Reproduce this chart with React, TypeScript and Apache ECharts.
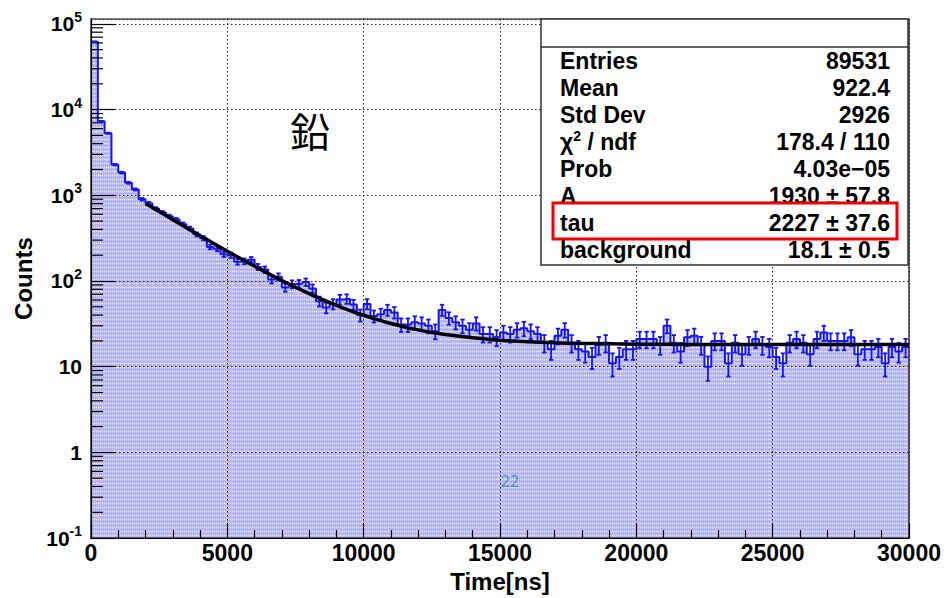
import React, { useEffect, useRef } from 'react';
import * as echarts from 'echarts';

// ---- data ----
const binWidth = 250; // ns per bin, 0 .. 30000 ns
const counts = [
  62000, 7300, 5300, 2280, 1840, 1400, 1170, 900, 810, 700,
  630, 570, 520, 460, 410, 350, 316, 250, 238, 205,
  200, 168, 170, 177, 146, 136, 104, 112, 84, 92,
  93, 97, 82, 58, 49, 54, 61, 62, 53, 40,
  54, 39, 41, 46, 43, 31, 31, 33, 32, 30,
  26, 46, 37, 33, 30, 27, 32, 24, 24, 22,
  25, 24, 27, 28, 26, 24, 19, 16, 23, 27,
  19, 16, 15, 13, 18, 19, 11, 13, 16, 16,
  21, 21, 21, 18, 30, 19, 15, 22, 23, 18,
  10, 20, 20, 11, 19, 14, 18, 21, 18, 17,
  13, 11, 19, 21, 19, 14, 21, 25, 20, 20,
  20, 22, 14, 16, 16, 17, 11, 17, 15, 17,
];
// fitted curve, read along the black line of the picture
const fitTimes = [2000, 2500, 3000, 3500, 4000, 4500, 5000, 5500, 6000, 6500, 7000, 7500, 8000, 8500, 9000, 9500, 10000, 10500, 11000, 11500, 12000, 12500, 13000, 13500, 14000, 14500, 15000, 15500, 16000, 17000, 18000, 19000, 20000, 22000, 25000, 30000];
const fitValues = [804, 646, 520, 419, 338, 274, 222.5, 181.4, 148.6, 122.3, 101.4, 84.6, 71.3, 60.5, 52.0, 45.2, 39.8, 35.4, 31.9, 29.1, 26.9, 25.1, 23.7, 22.6, 21.7, 21.0, 20.4, 19.9, 19.6, 19.0, 18.7, 18.5, 18.3, 18.2, 18.1, 18.1];

const xMin = 0;
const xMax = 30000;
const xInterval = 5000;
const yMin = 0.1;
const yMax = 114000;
const minorMultipliers = [2, 3, 4, 5, 6, 7, 8, 9];
const minorDecades = [0.1, 1, 10, 100, 1000, 10000];

const statsLabels = ['Entries', 'Mean', 'Std Dev', '{n|χ}{s|2}{n| / ndf}', 'Prob', 'A', 'tau', 'background'];
const statsValues = ['89531', '922.4', '2926', '178.4 / 110', '4.03e\u221205', '1930 ± 57.8', '2227 ± 37.6', '18.1 ± 0.5'];

const FONT = '"Liberation Sans", Arial, Helvetica, sans-serif';
const BLUE = '#1414f0';
const FILL = '#bebef4';

function makePattern(): any {
  try {
    const c = document.createElement('canvas');
    c.width = 4;
    c.height = 4;
    const ctx = c.getContext('2d');
    if (!ctx) return FILL;
    ctx.fillStyle = '#bcbcf3';
    ctx.fillRect(0, 0, 4, 4);
    ctx.fillStyle = '#eeeefd';
    ctx.fillRect(0, 3, 1, 1);
    ctx.fillRect(2, 3, 1, 1);
    ctx.fillStyle = '#a8a8ef';
    ctx.fillRect(1, 1, 1, 1);
    ctx.fillRect(3, 1, 1, 1);
    return { image: c, repeat: 'repeat' };
  } catch (e) {
    return FILL;
  }
}

export default function App() {
  const ref = useRef<HTMLDivElement>(null);
  useEffect(() => {
    if (!ref.current) return;
    const chart = echarts.init(ref.current, null, { renderer: 'svg' });

    const histLine = counts.map((c, i) => [i * binWidth, c]);
    histLine.push([counts.length * binWidth, counts[counts.length - 1]]);
    const errData = counts.map((c, i) => [i * binWidth + binWidth / 2, c]);
    const fitData = fitTimes.map((t, i) => [t, fitValues[i]]);
    const minorTicks: number[][] = [];
    minorDecades.forEach((d) => minorMultipliers.forEach((m) => minorTicks.push([xMin, d * m])));

    const statsGraphics: any[] = [];
    statsLabels.forEach((lab, i) => {
      const y = 60.5 + 27 * i;
      statsGraphics.push({
        type: 'text', z: 11,
        style: {
          text: lab, x: 560, y, font: `bold 23px ${FONT}`, fill: '#000',
          align: 'left', verticalAlign: 'middle', textAlign: 'left', textVerticalAlign: 'middle',
          rich: {
            n: { fontSize: 23, fontWeight: 'bold', fontFamily: FONT, lineHeight: 26 },
            s: { fontSize: 14, fontWeight: 'bold', fontFamily: FONT, lineHeight: 14, verticalAlign: 'top' },
          },
        },
      });
      statsGraphics.push({
        type: 'text', z: 11,
        style: {
          text: statsValues[i], x: 890, y, font: `bold 23px ${FONT}`, fill: '#000',
          align: 'right', verticalAlign: 'middle', textAlign: 'right', textVerticalAlign: 'middle',
        },
      });
    });

    chart.setOption({
      animation: false,
      backgroundColor: '#fff',
      grid: { left: 91, right: 37, top: 19, bottom: 55, show: true, z: 3, borderColor: '#000', borderWidth: 1.2, backgroundColor: 'transparent' },
      xAxis: {
        type: 'value', min: xMin, max: xMax, interval: xInterval, z: 3,
        name: 'Time[ns]', nameLocation: 'middle', nameGap: 28,
        nameTextStyle: { fontFamily: FONT, fontWeight: 'bold', fontSize: 24, color: '#000' },
        axisLine: { lineStyle: { color: '#000', width: 1.2 } },
        axisTick: { inside: true, length: 15, lineStyle: { color: '#000', width: 1.2 } },
        minorTick: { show: true, splitNumber: 5, length: 8, lineStyle: { color: '#000', width: 1.2 } },
        axisLabel: { fontFamily: FONT, fontWeight: 'bold', fontSize: 23, color: '#000', margin: 3, formatter: (v: number) => String(v) },
        splitLine: { show: true, lineStyle: { color: '#222', type: [1.5, 2.5], width: 1 } },
      },
      yAxis: {
        type: 'log', logBase: 10, min: yMin, max: yMax, splitNumber: 6, z: 3,
        name: 'Counts', nameLocation: 'middle', nameGap: 43,
        nameTextStyle: { fontFamily: FONT, fontWeight: 'bold', fontSize: 24, color: '#000' },
        axisLine: { lineStyle: { color: '#000', width: 1.2 } },
        axisTick: { inside: true, length: 24, lineStyle: { color: '#000', width: 1.2 } },
        axisLabel: {
          margin: 9, showMaxLabel: false,
          formatter: (v: number) => {
            const e = Math.round(Math.log10(v));
            if (e === 0) return '{b|1}';
            if (e === 1) return '{b|10}';
            return `{b|10}{s|${e}}`;
          },
          rich: {
            b: { fontFamily: FONT, fontWeight: 'bold', fontSize: 21, color: '#000', lineHeight: 28 },
            s: { fontFamily: FONT, fontWeight: 'bold', fontSize: 14, color: '#000', lineHeight: 14, verticalAlign: 'top' },
          },
        },
        splitLine: { show: true, lineStyle: { color: '#222', type: [1.5, 2.5], width: 1 } },
      },
      series: [
        {
          type: 'line', data: histLine, step: 'end', symbol: 'none', z: 2,
          lineStyle: { color: BLUE, width: 2 },
          areaStyle: { color: makePattern(), opacity: 1, origin: 'start' },
        },
        {
          type: 'custom', data: minorTicks, z: 4, silent: true,
          renderItem: (params: any, api: any) => {
            const p = api.coord([api.value(0), api.value(1)]);
            return { type: 'line', shape: { x1: p[0], y1: p[1], x2: p[0] + 12, y2: p[1] }, style: { stroke: '#000', lineWidth: 1.2 } };
          },
        },
        {
          type: 'custom', data: errData, z: 4, silent: true,
          renderItem: (params: any, api: any) => {
            const x = api.value(0);
            const v = api.value(1);
            const e = Math.sqrt(v);
            const pt = api.coord([x, v + e]);
            const pb = api.coord([x, Math.max(v - e, yMin)]);
            const st = { stroke: BLUE, lineWidth: 1.8 };
            return {
              type: 'group',
              children: [
                { type: 'line', shape: { x1: pt[0], y1: pt[1], x2: pb[0], y2: pb[1] }, style: st },
                { type: 'line', shape: { x1: pt[0] - 2.2, y1: pt[1], x2: pt[0] + 2.2, y2: pt[1] }, style: st },
                { type: 'line', shape: { x1: pb[0] - 2.2, y1: pb[1], x2: pb[0] + 2.2, y2: pb[1] }, style: st },
              ],
            };
          },
        },
        {
          type: 'line', data: fitData, smooth: 0.3, symbol: 'none', z: 5,
          lineStyle: { color: '#000', width: 3.5 },
        },
      ],
      graphic: [
        { type: 'rect', z: 10, shape: { x: 541, y: 19, width: 367, height: 246 }, style: { fill: '#fff', stroke: '#333', lineWidth: 1.5 } },
        { type: 'line', z: 10, shape: { x1: 541, y1: 47, x2: 908, y2: 47 }, style: { stroke: '#333', lineWidth: 1.5 } },
        ...statsGraphics,
        { type: 'rect', z: 12, shape: { x: 553, y: 203, width: 344, height: 36 }, style: { fill: 'none', stroke: '#ee0000', lineWidth: 3 } },
        { type: 'text', z: 11, style: { text: '鉛', x: 310, y: 130, font: `40px "Noto Sans CJK JP", "Noto Sans CJK SC", sans-serif`, fill: '#000', align: 'center', verticalAlign: 'middle', textAlign: 'center', textVerticalAlign: 'middle' } },
        { type: 'text', z: 11, style: { text: '22', x: 510, y: 481, font: `16px "Open Sans", "Noto Sans", sans-serif`, fill: '#3d8fd1', align: 'center', verticalAlign: 'middle', textAlign: 'center', textVerticalAlign: 'middle' } },
      ],
    });
    return () => chart.dispose();
  }, []);
  return <div ref={ref} style={{ position: 'fixed', left: 0, top: 0, width: 946, height: 598 }} />;
}
